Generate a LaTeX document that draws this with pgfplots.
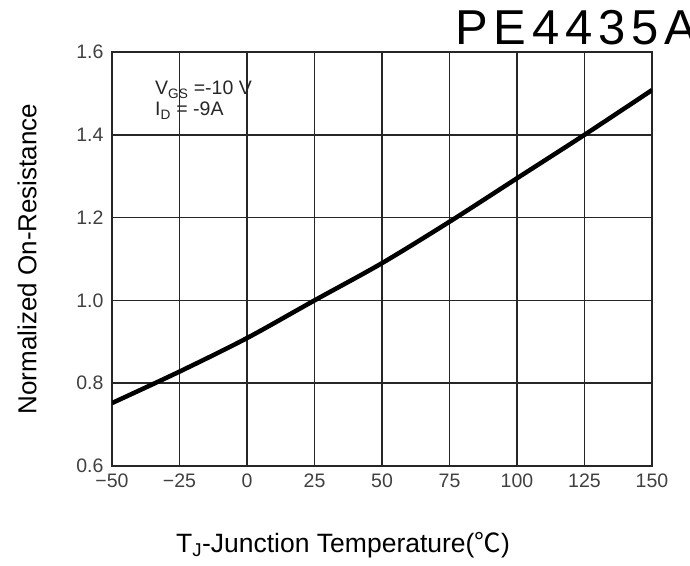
\documentclass[border=0pt]{standalone}
\usepackage{pgfplots}
\pgfplotsset{compat=1.18}
\usepackage{fontspec}
\setmainfont{Liberation Sans}
\newfontfamily\cjk{Noto Sans CJK SC}
\newfontfamily\titlefont[LetterSpace=12]{Liberation Sans}
\begin{document}
\begin{tikzpicture}[x=1pt,y=1pt]
\useasboundingbox (0,0) rectangle (690,565);
\begin{axis}[
  at={(112pt,99pt)}, anchor=south west,
  scale only axis, width=540pt, height=414pt,
  xmin=-50, xmax=150, ymin=0.6, ymax=1.6,
  xtick={-50,-25,0,25,50,75,100,125,150},
  xticklabels={−50,−25,0,25,50,75,100,125,150},
  ytick={0.6,0.8,1.0,1.2,1.4,1.6},
  yticklabels={0.6,0.8,1.0,1.2,1.4,1.6},
  grid=major,
  major grid style={line width=1.5pt, color=black!85},
  axis line style={line width=1.5pt, color=black!85},
  tick style={draw=none},
  ticklabel style={font=\fontsize{19.5}{19.5}\selectfont, text=black!75},
  xticklabel style={yshift=-4pt, text height=14pt, text depth=2pt},
  yticklabel style={xshift=-5pt},
  clip=true,
]
\addplot[black, line width=4.5pt, smooth] coordinates {
  (-50,0.752) (-25,0.828) (0,0.909) (25,1.000) (50,1.090)
  (75,1.190) (100,1.295) (125,1.400) (150,1.508)
};
\end{axis}
\node[anchor=base west, inner sep=0pt, font=\fontsize{19.5}{19.5}\selectfont, text=black!85] at (155,470) {V\textsubscript{GS} =-10 V};
\node[anchor=base west, inner sep=0pt, font=\fontsize{19.5}{19.5}\selectfont, text=black!85] at (155,449) {I\textsubscript{D} = -9A};
\node[anchor=base west, inner sep=0pt, font=\titlefont\fontsize{49}{49}\selectfont] at (455,520) {PE4435A};
\node[font=\fontsize{26.5}{26.5}\selectfont] at (343,20) {T\textsubscript{J}-Junction Temperature({\cjk ℃})};
\node[rotate=90, font=\fontsize{26}{26}\selectfont] at (27,306) {Normalized On-Resistance};
\end{tikzpicture}
\end{document}
